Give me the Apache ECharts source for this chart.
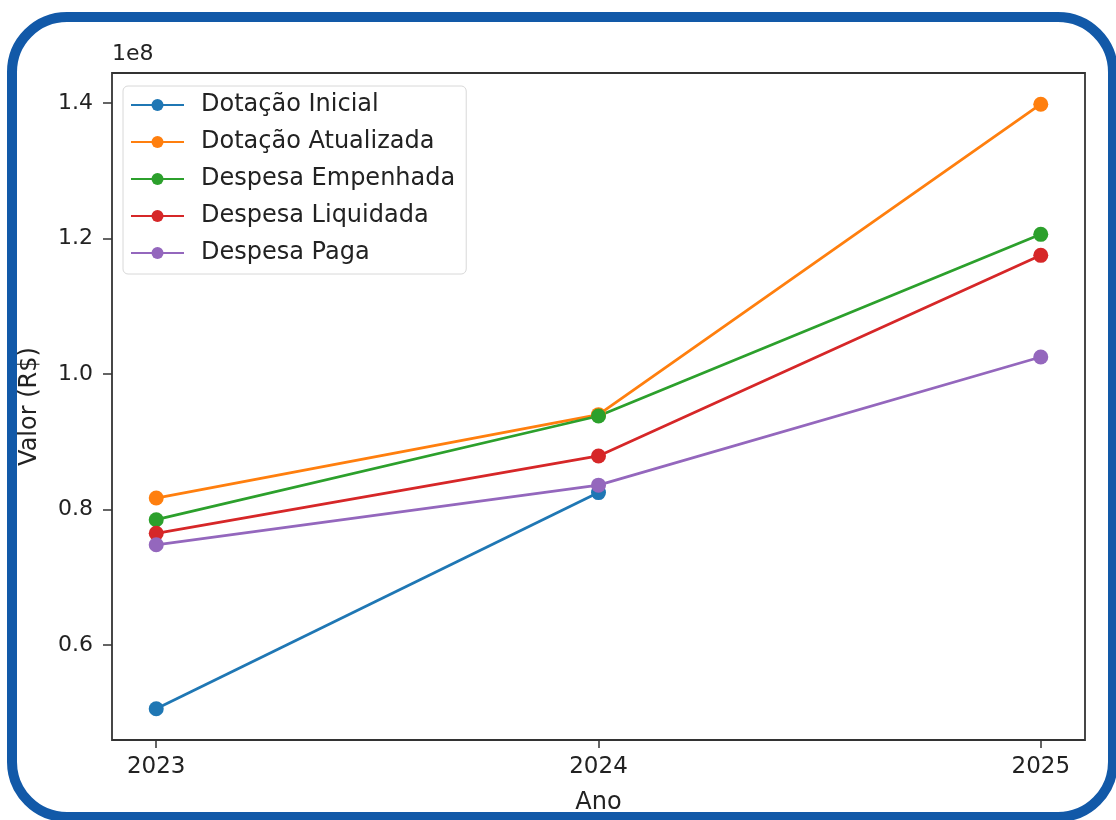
<!DOCTYPE html>
<html><head><meta charset="utf-8">
<script src="https://cdn.jsdelivr.net/npm/echarts@6/dist/echarts.min.js"></script>
<style>
html,body{margin:0;padding:0;background:#fff;}
#wrap{position:relative;width:1116px;height:820px;overflow:hidden;background:#fff;}
#frame{position:absolute;left:7px;top:12px;width:1111px;height:810px;border:10px solid #1259a8;border-radius:60px;box-sizing:border-box;pointer-events:none;}
#chart{position:absolute;left:0;top:0;width:1116px;height:820px;}
</style></head>
<body><div id="wrap"><div id="chart"></div><div id="frame"></div></div>
<script>
const years = [2023, 2024, 2025];
const seriesNames = ['Dotação Inicial','Dotação Atualizada','Despesa Empenhada','Despesa Liquidada','Despesa Paga'];
const dotacaoInicial    = [50600000, 82500000, null];
const dotacaoAtualizada = [81700000, 94000000, 139800000];
const despesaEmpenhada  = [78500000, 93800000, 120600000];
const despesaLiquidada  = [76500000, 87900000, 117500000];
const despesaPaga       = [74800000, 83600000, 102500000];
const yTicks = [60000000, 80000000, 100000000, 120000000, 140000000];
const colors = ['#1f77b4','#ff7f0e','#2ca02c','#d62728','#9467bd'];
const values = [dotacaoInicial, dotacaoAtualizada, despesaEmpenhada, despesaLiquidada, despesaPaga];

const font = 'DejaVu Sans';
const chart = echarts.init(document.getElementById('chart'));
chart.setOption({
  animation:false,
  color: colors,
  grid:{left:112,right:31,top:73,bottom:78,show:true,borderColor:'#333',borderWidth:1.8,backgroundColor:'#fff'},
  graphic:[{type:'text',left:112,top:43,style:{text:'1e8',font:'22px "DejaVu Sans"',fill:'#222'}}],
  legend:{
    orient:'vertical',left:123,top:86,
    backgroundColor:'#fff',borderColor:'#d8d8d8',borderWidth:1,borderRadius:5,
    padding:[7,11,9,7],itemWidth:53,itemHeight:15,itemGap:13,
    textStyle:{fontFamily:font,fontSize:24,color:'#222',padding:[0,0,0,12]},
    data:seriesNames
  },
  xAxis:{
    type:'value',min:2022.9,max:2025.1,
    name:'Ano',nameLocation:'middle',nameGap:51,
    nameTextStyle:{fontFamily:font,fontSize:24,color:'#222'},
    axisLine:{show:false},splitLine:{show:false},
    axisTick:{show:true,length:8,lineStyle:{color:'#333',width:1.5},customValues:years},
    axisLabel:{customValues:years,fontFamily:font,fontSize:23,color:'#222',margin:16,formatter:v=>String(v)}
  },
  yAxis:{
    type:'value',min:46000000,max:144400000,
    name:'Valor (R$)',nameLocation:'middle',nameGap:70,
    nameTextStyle:{fontFamily:font,fontSize:24,color:'#222'},
    axisLine:{show:false},splitLine:{show:false},
    axisTick:{show:true,length:9,lineStyle:{color:'#333',width:1.5},customValues:yTicks},
    axisLabel:{customValues:yTicks,fontFamily:font,fontSize:22,color:'#222',margin:19,formatter:v=>(v/1e8).toFixed(1)}
  },
  series: seriesNames.map((n,i)=>({
    name:n,type:'line',
    data: years.map((y,j)=>[y, values[i][j]]),
    symbol:'circle',symbolSize:15,connectNulls:false,
    lineStyle:{width:2.8,color:colors[i]},
    itemStyle:{color:colors[i]}
  }))
});
</script></body></html>
